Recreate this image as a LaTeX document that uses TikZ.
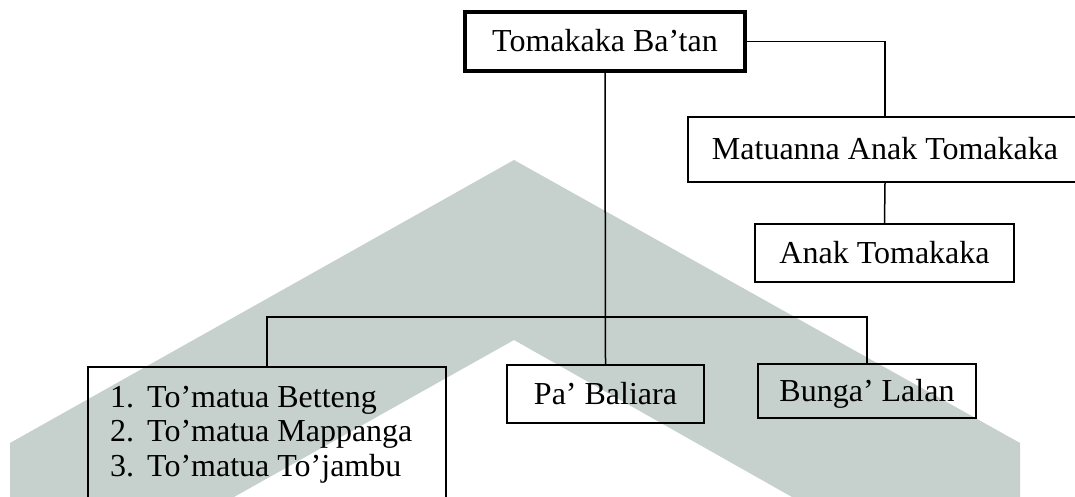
\documentclass[tikz,border=0pt]{standalone}
\usepackage{fontspec}
\setmainfont{Liberation Serif}
\definecolor{watermark}{RGB}{198,208,204}
\begin{document}
\begin{tikzpicture}[x=1pt,y=-1pt,
    every node/.style={font=\fontsize{32}{35}\selectfont},
    box/.style={draw,line width=2pt,inner sep=0pt,text height=26pt,text depth=6pt},
    conn/.style={line width=1.5pt},
    item/.style={inner sep=0pt,anchor=base west}]
  \useasboundingbox (0,0) rectangle (1075,497);
  \clip (0,0) rectangle (1075,497);
  % watermark behind the chart
  \fill[watermark] (10,497) -- (10,443) -- (514,160) -- (1020,443) -- (1020,497)
    -- (792,497) -- (514,340) -- (234,497) -- cycle;
  \draw
    (605,41.5) node[box,line width=4pt,minimum width=280pt,minimum height=59pt] (batan){Tomakaka Ba’tan}
    (885,149.5) node[box,minimum width=394pt,minimum height=65pt] (matuanna){Matuanna Anak Tomakaka}
    (884.5,253) node[box,minimum width=259pt,minimum height=58pt] (anak){Anak Tomakaka}
    (605.5,394) node[box,minimum width=197pt,minimum height=58pt] (pa){Pa’ Baliara}
    (867,391) node[box,minimum width=218pt,minimum height=54pt] (bunga){Bunga’ Lalan}
    (267,367) node[inner sep=0pt,outer sep=1pt,anchor=north,minimum width=356pt,minimum height=300pt] (list){};
  % the list box runs off the page, so only three sides
  \draw[line width=2pt] (list.south west) -- (list.north west) -- (list.north east) -- (list.south east);
  \node[item] (item1) at (110,407) {\makebox[37pt][l]{1.}To’matua Betteng};
  \node[item] (item2) at (110,441.5) {\makebox[37pt][l]{2.}To’matua Mappanga};
  \node[item] (item3) at (110,476) {\makebox[37pt][l]{3.}To’matua To’jambu};
  \coordinate (bus) at (0,317);
  \begin{scope}[conn]
    \draw (batan.south) -- (pa.north);
    \draw (batan.east) -| (matuanna.north);
    \draw (matuanna.south) -- (anak.north);
    \draw (list.north) |- (bus -| bunga.north) -- (bunga.north);
  \end{scope}
\end{tikzpicture}
\end{document}
